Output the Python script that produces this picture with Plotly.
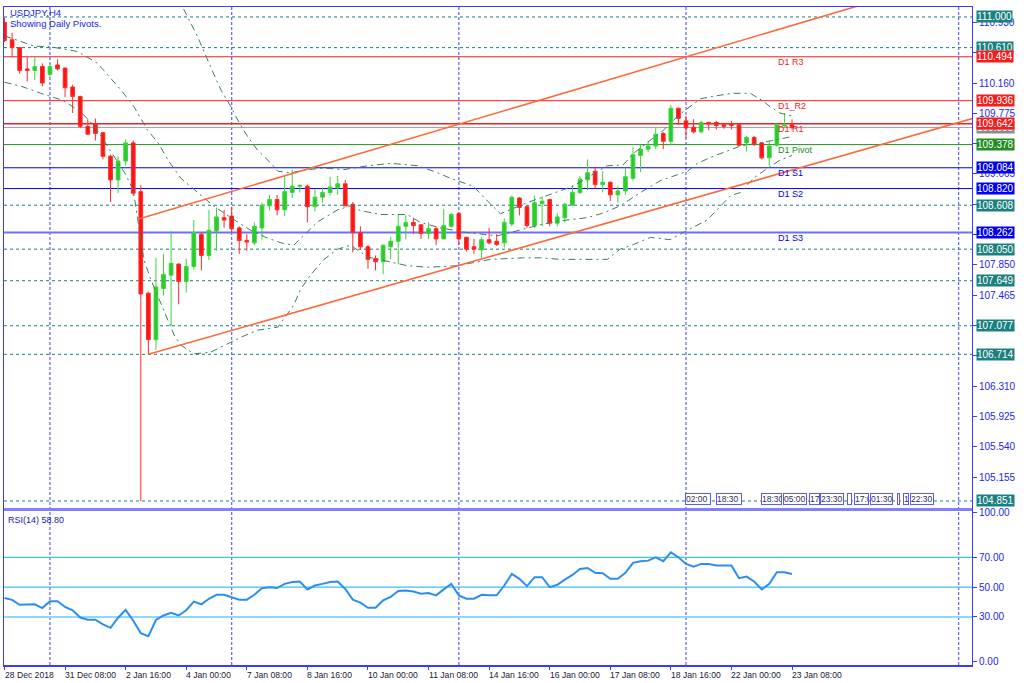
import plotly.graph_objects as go

# ---------------- data ----------------
bars = list(range(105))
opens = [110.93, 110.71, 110.61, 110.34, 110.32, 110.37, 110.27, 110.39, 110.35, 110.11,
         109.99, 109.61, 109.64, 109.53, 109.23, 108.93, 109.17, 109.40, 108.78, 107.49,
         106.90, 107.55, 107.72, 107.86, 107.64, 107.83, 108.24, 107.97, 108.28, 108.45,
         108.47, 108.32, 108.16, 108.13, 108.32, 108.60, 108.68, 108.55, 108.77, 108.85,
         108.85, 108.59, 108.71, 108.77, 108.83, 108.88, 108.62, 108.26, 108.08, 107.93,
         107.89, 108.08, 108.15, 108.34, 108.39, 108.36, 108.25, 108.31, 108.18, 108.34,
         108.50, 108.20, 108.08, 108.04, 108.17, 108.15, 108.13, 108.37, 108.70, 108.59,
         108.35, 108.63, 108.68, 108.38, 108.45, 108.61, 108.77, 108.93, 109.04, 108.87,
         108.90, 108.74, 108.79, 108.95, 109.24, 109.32, 109.36, 109.52, 109.42, 109.84,
         109.68, 109.60, 109.54, 109.66, 109.66, 109.63, 109.64, 109.63, 109.40, 109.47,
         109.40, 109.21, 109.37, 109.62, 109.63]
highs = [110.99, 110.80, 110.62, 110.49, 110.50, 110.41, 110.41, 110.46, 110.36, 110.14,
         110.00, 109.70, 109.71, 109.54, 109.25, 109.23, 109.44, 109.43, 108.86, 107.51,
         107.94, 107.99, 108.28, 107.87, 107.93, 108.42, 108.26, 108.55, 108.58, 108.55,
         108.59, 108.34, 108.24, 108.39, 108.64, 108.74, 108.74, 108.98, 109.06, 108.87,
         108.87, 108.81, 108.83, 108.97, 108.98, 108.93, 108.65, 108.34, 108.10, 107.97,
         108.11, 108.21, 108.49, 108.48, 108.45, 108.36, 108.39, 108.34, 108.56, 108.51,
         108.52, 108.21, 108.18, 108.20, 108.32, 108.24, 108.44, 108.73, 108.71, 108.61,
         108.73, 108.72, 108.69, 108.51, 108.64, 108.86, 108.98, 109.19, 109.09, 109.04,
         108.91, 108.85, 109.08, 109.35, 109.38, 109.42, 109.59, 109.54, 109.88, 109.85,
         109.74, 109.70, 109.68, 109.67, 109.68, 109.65, 109.68, 109.65, 109.49, 109.49,
         109.41, 109.42, 109.66, 109.78, 109.70]
lows = [110.68, 110.49, 110.28, 110.18, 110.20, 110.12, 110.24, 110.32, 109.98, 109.78,
        109.59, 109.51, 109.43, 109.19, 108.65, 108.76, 109.11, 108.73, 104.85, 106.71,
        106.77, 107.46, 107.07, 107.35, 107.50, 107.79, 107.78, 107.91, 108.03, 108.32,
        108.26, 107.99, 108.03, 108.10, 108.17, 108.54, 108.48, 108.47, 108.70, 108.77,
        108.39, 108.53, 108.64, 108.73, 108.74, 108.60, 108.01, 108.04, 107.80, 107.78,
        107.73, 107.92, 107.86, 108.17, 108.24, 108.18, 108.18, 108.10, 108.18, 108.32,
        108.10, 108.02, 107.99, 107.94, 108.11, 108.09, 108.07, 108.34, 108.48, 108.32,
        108.32, 108.34, 108.34, 108.34, 108.39, 108.60, 108.75, 108.80, 108.82, 108.77,
        108.66, 108.64, 108.74, 108.92, 109.03, 109.28, 109.32, 109.32, 109.37, 109.63,
        109.46, 109.52, 109.52, 109.56, 109.57, 109.58, 109.57, 109.36, 109.29, 109.36,
        109.19, 109.11, 109.35, 109.60, 109.57]
closes = [110.70, 110.61, 110.32, 110.32, 110.37, 110.16, 110.37, 110.34, 110.10, 109.99,
          109.61, 109.51, 109.52, 109.23, 108.93, 109.17, 109.40, 108.76, 107.48, 106.90,
          107.57, 107.73, 107.87, 107.64, 107.83, 108.26, 107.97, 108.29, 108.46, 108.42,
          108.31, 108.16, 108.14, 108.34, 108.61, 108.68, 108.55, 108.78, 108.85, 108.86,
          108.59, 108.71, 108.77, 108.84, 108.88, 108.60, 108.26, 108.08, 107.92, 107.89,
          108.10, 108.15, 108.34, 108.39, 108.35, 108.25, 108.31, 108.18, 108.35, 108.49,
          108.18, 108.05, 108.05, 108.17, 108.13, 108.11, 108.39, 108.71, 108.58, 108.35,
          108.64, 108.66, 108.38, 108.46, 108.62, 108.77, 108.94, 109.02, 108.87, 108.90,
          108.74, 108.79, 108.97, 109.25, 109.32, 109.36, 109.51, 109.42, 109.84, 109.71,
          109.59, 109.54, 109.66, 109.64, 109.62, 109.61, 109.62, 109.37, 109.47, 109.38,
          109.21, 109.36, 109.63, 109.63, 109.595]

rsi = [42.7, 41.5, 38.2, 38.2, 38.5, 36.0, 40.5, 40.5, 36.7, 34.5,
       29.6, 28.2, 28.2, 25.0, 22.7, 29.5, 34.8, 27.5, 19.2, 17.1,
       28.0, 31.0, 32.8, 31.0, 34.5, 40.3, 38.5, 42.2, 44.9, 44.9,
       43.3, 41.6, 41.6, 44.9, 49.3, 50.0, 49.4, 52.2, 53.4, 53.8,
       48.5, 51.1, 52.2, 53.4, 53.8, 48.8, 41.6, 39.6, 36.2, 36.2,
       41.1, 43.4, 47.4, 47.8, 47.1, 45.6, 46.0, 44.5, 48.5, 52.2,
       44.5, 42.3, 42.3, 44.9, 44.5, 44.5, 51.1, 58.9, 55.6, 50.7,
       56.7, 56.7, 50.0, 51.6, 55.1, 58.2, 62.2, 62.9, 59.6, 59.4,
       55.6, 55.6, 59.6, 66.3, 67.4, 67.8, 70.0, 67.4, 73.4, 70.0,
       65.6, 63.8, 65.6, 65.6, 64.5, 64.5, 64.5, 56.0, 57.1, 53.8,
       48.5, 52.2, 60.0, 60.0, 58.8]

# Bollinger bands (bar position, price)
bb_up_x = [0, 10, 18, 21, 23.5, 25.5, 27.2, 28.6, 29.9, 30.8, 32.1, 33.4, 35.2, 36.1, 37.8,
           40, 42.2, 44.8, 48, 51, 54.6, 57.2, 58.9, 61.9, 63.8, 65.5, 69, 71.7, 75.1, 79.6,
           81.7, 83.1, 85.3, 87, 89, 91.9, 94.1, 96.2, 98.5, 100.2, 101.1, 102.4, 104]
bb_up_y = [111.35, 111.25, 111.6, 111.5, 111.13, 110.75, 110.37, 110.07, 109.86, 109.69,
           109.48, 109.31, 109.14, 109.04, 109.02, 109.06, 109.08, 109.06, 109.11, 109.14,
           109.11, 109.02, 108.95, 108.85, 108.66, 108.50, 108.64, 108.73, 108.85, 109.11,
           109.12, 109.27, 109.43, 109.56, 109.75, 109.96, 110.00, 110.03, 110.03, 109.93,
           109.86, 109.78, 109.74]
bb_mid_x = [0, 3.9, 6.1, 9.7, 12.3, 14.1, 15.4, 17.1, 18.9, 20.3, 21.6, 23.3, 25.9, 27.6, 29.9,
            32.5, 34.5, 36.5, 38.2, 39.5, 41.4, 44, 45.7, 47, 49.7, 53.2, 54.9, 57.6, 61.1, 65.1,
            68.1, 70.8, 73.4, 77, 79.1, 81.3, 84, 86.6, 90.2, 91.5, 93.6, 95.4, 97.2, 99.8, 104]
bb_mid_y = [110.76, 110.63, 110.62, 110.56, 110.41, 110.22, 110.07, 109.86, 109.56, 109.40,
            109.18, 108.95, 108.74, 108.60, 108.45, 108.29, 108.20, 108.13, 108.10, 108.22,
            108.40, 108.55, 108.60, 108.54, 108.49, 108.49, 108.39, 108.32, 108.26, 108.22,
            108.29, 108.36, 108.41, 108.45, 108.51, 108.60, 108.77, 108.92, 109.04, 109.14,
            109.23, 109.30, 109.36, 109.40, 109.48]
bb_lo_x = [0, 2.2, 4.8, 7.7, 10, 12, 14, 16, 17, 18.4, 19.3, 20.6, 21.6, 22.4, 23.3, 25, 27.2,
           29, 31.2, 33.4, 36.1, 38.2, 39.1, 40.4, 42.2, 44, 45.7, 48, 53.2, 55.9, 59.8, 62,
           64.2, 68.5, 70.8, 73.4, 76, 79.6, 81.3, 83.1, 85.3, 87.9, 89.6, 91.5, 92.8, 94.1,
           95.9, 97.2, 98.9, 100.2, 102.4, 104]
bb_lo_y = [110.17, 110.12, 110.03, 109.94, 109.80, 109.60, 109.30, 109.00, 108.80, 107.92,
           107.67, 107.38, 107.16, 106.96, 106.83, 106.72, 106.74, 106.83, 106.93, 107.02,
           107.06, 107.34, 107.54, 107.72, 107.92, 108.05, 108.10, 107.95, 107.84, 107.82,
           107.84, 107.88, 107.92, 107.94, 107.94, 107.92, 107.92, 107.92, 108.05, 108.11,
           108.20, 108.17, 108.26, 108.35, 108.42, 108.55, 108.73, 108.77, 108.95, 109.04,
           109.18, 109.24]

# Trend channel anchors (bar, price)
ch_up_x = [17.6, 127.8]
ch_up_y = [108.43, 111.57]
ch_lo_x = [19, 127.8]
ch_lo_y = [106.714, 109.71]

pivot_names = ["D1 R3", "D1_R2", "D1 R1", "D1 Pivot", "D1 S1", "D1 S2", "D1 S3"]
pivot_levels = [110.494, 109.936, 109.642, 109.378, 109.084, 108.820, 108.262]
dotted_levels = [111.000, 110.610, 108.608, 108.050, 107.649, 107.077, 106.714, 104.851]
price_ticks = [105.155, 105.540, 105.925, 106.310, 106.695, 107.080, 107.465, 107.850,
               108.235, 108.620, 109.005, 109.390, 109.775, 110.160, 110.545, 110.930]
hidden_ticks = [106.695, 107.080, 108.235, 108.620, 109.390, 110.545]
rsi_ticks = [0, 30, 50, 70, 100]
rsi_levels = [70, 50, 30]
separator_bars = [6, 30, 60, 90, 126]
date_label_bars = [0, 8, 16, 24, 32, 40, 48, 56, 64, 72, 80, 88, 96, 104]
date_labels = ["28 Dec 2018", "31 Dec 08:00", "2 Jan 16:00", "4 Jan 00:00", "7 Jan 08:00",
               "8 Jan 16:00", "10 Jan 00:00", "11 Jan 08:00", "14 Jan 16:00", "16 Jan 00:00",
               "17 Jan 08:00", "18 Jan 16:00", "22 Jan 00:00", "23 Jan 08:00"]
event_bars = [89.9, 93.9, 99.9, 102.8, 106.3, 107.7, 111.3, 112.2, 114.3, 117.9, 118.7, 119.6]
event_texts = ["02:00", "18:30", "18:30", "05:00", "17:00", "23:30", "", "17:00", "01:30",
               "", "1", "22:30"]

# ---------------- styling ----------------
FONT = "Liberation Sans, Arial, sans-serif"
FRAME = "#3b3bff"
AX_TXT = "#2525ee"
TEAL = "#1b8080"
RED = "#f51c1c"
GREEN = "#238c23"
BLUE = "#0000f0"
pivot_colors = [RED, RED, RED, GREEN, BLUE, BLUE, "#6f6fff"]
pivot_widths = [1, 1, 1.5, 1, 1, 1, 2]
pivot_label_colors = [RED, RED, RED, GREEN, BLUE, BLUE, BLUE]
event_widths = [24, 24, 19, 22, 9, 22, 3, 13, 21, 1, 4, 22]

X_RANGE = [-0.066, 127.77]
Y_RANGE = [104.7626, 111.1263]
RSI_RANGE = [-2.2, 101.1]
MAIN_DOM = [0.2387, 1.0]
RSI_DOM = [0.0, 0.2341]

fig = go.Figure()

fig.add_trace(go.Candlestick(
    x=bars, open=opens, high=highs, low=lows, close=closes,
    increasing=dict(line=dict(color="#3ad63a", width=1), fillcolor="#2bcb2b"),
    decreasing=dict(line=dict(color="#ff2a2a", width=1), fillcolor="#ff1414"),
    whiskerwidth=0, xaxis="x", yaxis="y", hoverinfo="skip", showlegend=False))

band_style = dict(color="#3f7f5f", width=1, dash="7px,4px,2px,4px")
for bx, by in ((bb_up_x, bb_up_y), (bb_mid_x, bb_mid_y), (bb_lo_x, bb_lo_y)):
    fig.add_trace(go.Scatter(x=bx, y=by, mode="lines", line=band_style,
                             xaxis="x", yaxis="y", hoverinfo="skip", showlegend=False))

for cx, cy in ((ch_up_x, ch_up_y), (ch_lo_x, ch_lo_y)):
    fig.add_trace(go.Scatter(x=cx, y=cy, mode="lines", line=dict(color="#ff6a3a", width=1.6),
                             xaxis="x", yaxis="y", hoverinfo="skip", showlegend=False))

fig.add_trace(go.Scatter(x=bars, y=rsi, mode="lines", line=dict(color="#2b8ff2", width=2),
                         xaxis="x2", yaxis="y2", hoverinfo="skip", showlegend=False))

shapes = []
for b in separator_bars:
    shapes.append(dict(type="line", xref="x", yref="paper", x0=b, x1=b, y0=0, y1=1,
                       line=dict(color="#6c6cff", width=1.3, dash="3px,2px"), layer="below"))
for lv in dotted_levels:
    shapes.append(dict(type="line", xref="x domain", yref="y", x0=0, x1=1, y0=lv, y1=lv,
                       line=dict(color=TEAL, width=1, dash="3px,3px"), layer="below"))
for lv, c, w in zip(pivot_levels, pivot_colors, pivot_widths):
    shapes.append(dict(type="line", xref="x domain", yref="y", x0=0, x1=1, y0=lv, y1=lv,
                       line=dict(color=c, width=w), layer="below"))
shapes.append(dict(type="line", xref="x domain", yref="y", x0=0, x1=1,
                   y0=closes[-1], y1=closes[-1], line=dict(color="#a0a0b0", width=1),
                   layer="below"))
for lv in rsi_levels:
    shapes.append(dict(type="line", xref="x2 domain", yref="y2", x0=0, x1=1, y0=lv, y1=lv,
                       line=dict(color="#8fd8ff" if lv == 30 else "#3cc0f5",
                                 width=2 if lv == 30 else 1.3), layer="below"))
shapes.append(dict(type="rect", xref="paper", yref="paper", x0=0, x1=1,
                   y0=RSI_DOM[1], y1=MAIN_DOM[0], fillcolor="#8080ff",
                   line=dict(width=0), layer="above"))

annotations = []
annotations.append(dict(text="USDJPY,H4", xref="paper", yref="paper", x=0, y=1,
                        xanchor="left", yanchor="middle", xshift=4, yshift=-5.5,
                        showarrow=False, font=dict(family=FONT, size=9.5, color="#2323e6")))
annotations.append(dict(text="Showing Daily Pivots.", xref="paper", yref="paper", x=0, y=1,
                        xanchor="left", yanchor="middle", xshift=4, yshift=-16.5,
                        showarrow=False, font=dict(family=FONT, size=9.5, color="#2323e6")))
annotations.append(dict(text=f"RSI(14) {rsi[-1]:.2f}", xref="paper", yref="y2 domain", x=0, y=1,
                        xanchor="left", yanchor="middle", xshift=2, yshift=-9,
                        showarrow=False, font=dict(family=FONT, size=9, color="#2020b0")))

LABEL_BAR = 101.9
for name, lv, c in zip(pivot_names, pivot_levels, pivot_label_colors):
    annotations.append(dict(text=name, xref="x", yref="y", x=LABEL_BAR, y=lv,
                            xanchor="left", yanchor="middle", yshift=-5.5, showarrow=False,
                            font=dict(family=FONT, size=9, color=c)))

for b, t in zip(date_label_bars, date_labels):
    annotations.append(dict(text=t, xref="x2", yref="paper", x=b, y=0, xanchor="left",
                            yanchor="top", xshift=-2, yshift=-3, showarrow=False,
                            font=dict(family=FONT, size=8.6, color="#202038")))

ev_y = Y_RANGE[0] + (Y_RANGE[1] - Y_RANGE[0]) * (9.0 / 504.0)
for b, t, w in zip(event_bars, event_texts, event_widths):
    annotations.append(dict(text=t if t else " ", xref="x", yref="y", x=b, y=ev_y,
                            xanchor="left", yanchor="middle", showarrow=False, width=w,
                            align="left", bgcolor="#ffffff", bordercolor="#5a5aff",
                            borderwidth=1, borderpad=0,
                            font=dict(family=FONT, size=8.5, color="#303050")))


def price_label(v, bg):
    return dict(text=f"{v:.3f}", xref="paper", yref="y", x=1, y=v, xanchor="left",
                yanchor="middle", xshift=4, showarrow=False, bgcolor=bg, borderpad=0,
                font=dict(family=FONT, size=10, color="#ffffff"))


annotations.append(price_label(closes[-1], "#8c8c96"))
for lv in dotted_levels:
    annotations.append(price_label(lv, TEAL))
for lv, c in zip(pivot_levels, [RED, RED, RED, GREEN, BLUE, BLUE, BLUE]):
    annotations.append(price_label(lv, c))

axis_font = dict(family=FONT, size=10, color=AX_TXT)
fig.update_layout(
    width=1024, height=683,
    margin=dict(l=3, r=52, t=3, b=18),
    paper_bgcolor="#ffffff", plot_bgcolor="#ffffff",
    showlegend=False,
    xaxis=dict(domain=[0, 1], range=X_RANGE, anchor="y", showticklabels=False,
               showgrid=False, zeroline=False, showline=True, mirror=True,
               linecolor=FRAME, linewidth=1, rangeslider=dict(visible=False), ticks=""),
    yaxis=dict(domain=MAIN_DOM, range=Y_RANGE, side="right", anchor="x",
               tickvals=price_ticks,
               ticktext=["" if v in hidden_ticks else f"{v:.3f}" for v in price_ticks],
               ticks="outside", ticklen=4, tickcolor=FRAME, tickfont=axis_font,
               showgrid=False, zeroline=False, showline=True, mirror=True,
               linecolor=FRAME, linewidth=1),
    xaxis2=dict(domain=[0, 1], range=X_RANGE, anchor="y2", showticklabels=False,
                tickvals=date_label_bars, ticks="outside", ticklen=3, tickcolor=FRAME,
                showgrid=False, zeroline=False, showline=True, mirror=True,
                linecolor=FRAME, linewidth=1.5),
    yaxis2=dict(domain=RSI_DOM, range=RSI_RANGE, side="right", anchor="x2",
                tickvals=rsi_ticks, ticktext=[f"{v:.2f}" for v in rsi_ticks],
                ticks="outside", ticklen=4, tickcolor=FRAME, tickfont=axis_font,
                showgrid=False, zeroline=False, showline=True, mirror=True,
                linecolor=FRAME, linewidth=1),
    shapes=shapes,
    annotations=annotations,
)

fig.write_html("out.html", config={"displayModeBar": False},
               post_script="document.body.style.margin='0';document.body.style.overflow='hidden';")
